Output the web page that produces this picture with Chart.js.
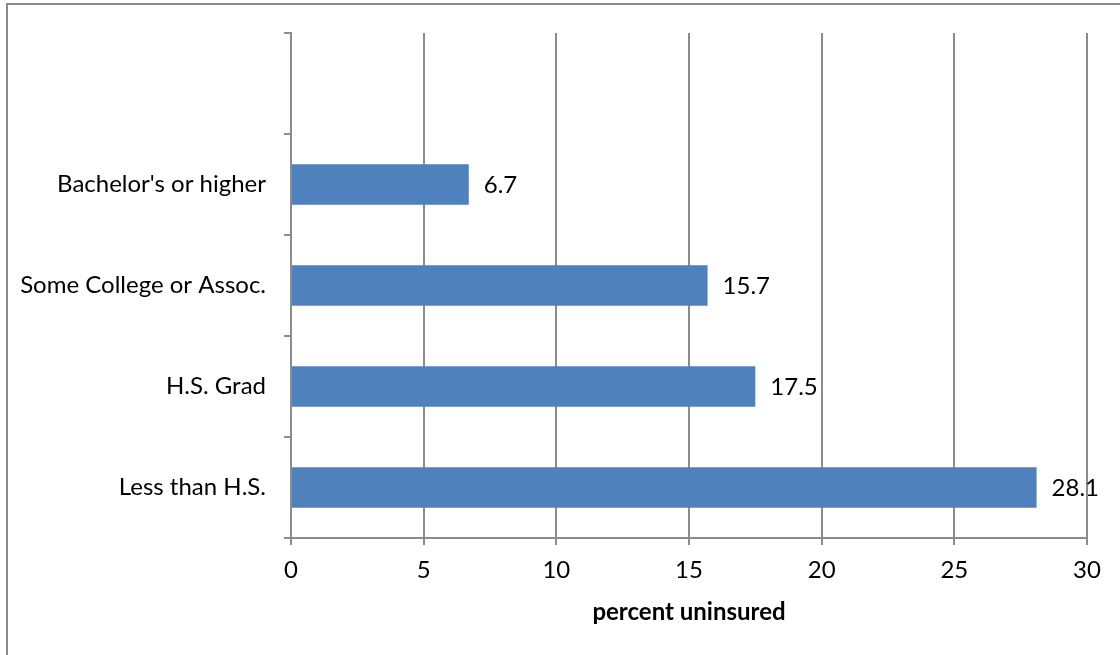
<!DOCTYPE html>
<html>
<head>
<meta charset="utf-8">
<script src="https://cdn.jsdelivr.net/npm/chart.js@4.4.0/dist/chart.umd.min.js"></script>
<style>
  html, body { margin: 0; padding: 0; background: #fff; overflow: hidden; }
  #wrap { position: relative; width: 1120px; height: 655px; }
  #frame {
    position: absolute; left: 6px; top: 3px; width: 1200px; height: 700px;
    border-left: 2px solid #8a8a8a; border-top: 2px solid #8a8a8a;
    pointer-events: none;
  }
</style>
</head>
<body>
<div id="wrap">
  <canvas id="myChart"></canvas>
  <div id="frame"></div>
</div>
<script>
// education level, top to bottom (first slot is left empty)
var categories = ['', "Bachelor's or higher", 'Some College or Assoc.', 'H.S. Grad', 'Less than H.S.'];
var uninsured = [null, 6.7, 15.7, 17.5, 28.1];
var xMin = 0, xMax = 30, xStep = 5;

var gridGray = '#8c8c8c';
var labelFont = { family: 'Lato', size: 24 };

// value text to the right of each bar
var valueLabels = {
  id: 'valueLabels',
  afterDatasetsDraw: function (chart) {
    var ctx = chart.ctx;
    var meta = chart.getDatasetMeta(0);
    ctx.save();
    ctx.font = '24px Lato';
    ctx.fillStyle = '#000';
    ctx.textAlign = 'left';
    ctx.textBaseline = 'middle';
    meta.data.forEach(function (bar, i) {
      var v = uninsured[i];
      if (v === null) return;
      ctx.fillText(v.toFixed(1), bar.x + 15, bar.y + 1);
    });
    ctx.restore();
  }
};

var ctx = document.getElementById('myChart').getContext('2d');
var chart = new Chart(ctx, {
  type: 'bar',
  data: {
    labels: categories,
    datasets: [{
      data: uninsured,
      backgroundColor: '#4F81BD',
      borderWidth: 0,
      barPercentage: 0.4,
      categoryPercentage: 1.0
    }]
  },
  options: {
    indexAxis: 'y',
    responsive: true,
    maintainAspectRatio: false,
    animation: false,
    layout: { padding: { top: 33, right: 33, left: 0, bottom: 0 } },
    plugins: {
      legend: { display: false },
      tooltip: { enabled: false }
    },
    scales: {
      x: {
        min: xMin,
        max: xMax,
        ticks: { stepSize: xStep, color: '#000', font: labelFont, padding: 11 },
        grid: { color: gridGray, lineWidth: 2, tickLength: 7 },
        border: { color: gridGray, width: 2 },
        title: {
          display: true,
          text: 'percent uninsured',
          color: '#000',
          font: { family: 'Lato', size: 24, weight: 'bold' },
          padding: { top: 0, bottom: 28 }
        },
        afterFit: function (scale) { scale.height = 117; }
      },
      y: {
        ticks: { color: '#000', font: labelFont, padding: 18 },
        grid: { drawOnChartArea: false, color: gridGray, lineWidth: 2, tickLength: 7 },
        border: { color: gridGray, width: 2 },
        afterFit: function (scale) { scale.width = 291; }
      }
    }
  },
  plugins: [valueLabels]
});
</script>
</body>
</html>
